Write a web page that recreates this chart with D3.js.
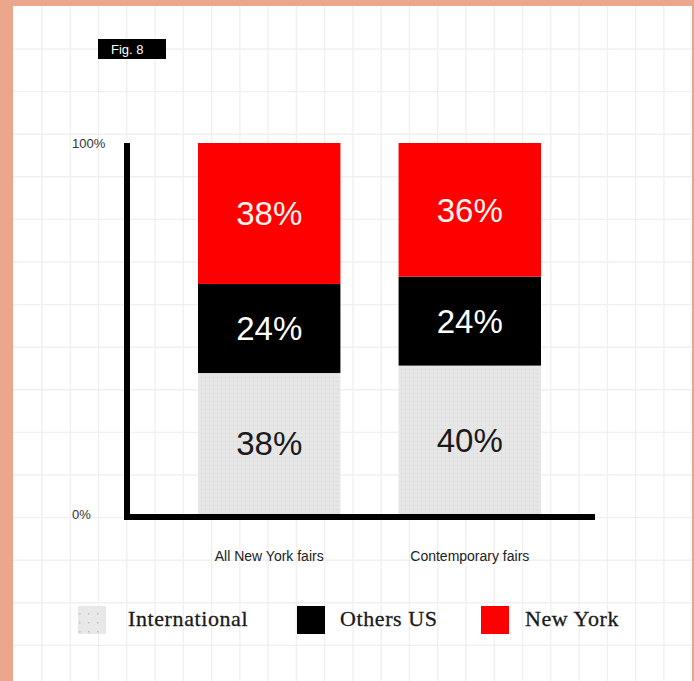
<!DOCTYPE html>
<html>
<head>
<meta charset="utf-8">
<script src="https://cdn.jsdelivr.net/npm/d3@7"></script>
<style>
  html, body { margin: 0; padding: 0; background: #fff; }
  svg { display: block; }
</style>
</head>
<body>
<svg id="chart" width="694" height="681"></svg>
<script>
const categories = ["All New York fairs", "Contemporary fairs"];
const seriesNames = ["International", "Others US", "New York"];
const international = [38, 40];
const othersUS = [24, 24];
const newYork = [38, 36];
const yTickValues = [0, 100];
const yTickLabels = ["0%", "100%"];
const figLabel = "Fig. 8";

const colors = { "International": "url(#dots)", "Others US": "#000000", "New York": "#ff0000" };
const labelColors = { "International": "#1a1a1a", "Others US": "#ffffff", "New York": "#fff4ec" };

const rows = categories.map((c, i) => ({
  category: c,
  "International": international[i],
  "Others US": othersUS[i],
  "New York": newYork[i]
}));

const W = 694, H = 681;
const svg = d3.select("#chart");

const defs = svg.append("defs");
const pat = defs.append("pattern").attr("id", "dots").attr("patternUnits", "userSpaceOnUse")
  .attr("width", 4).attr("height", 4);
pat.append("rect").attr("width", 4).attr("height", 4).attr("fill", "#e6e6e6");
pat.append("rect").attr("x", 1).attr("y", 1).attr("width", 1).attr("height", 1).attr("fill", "#d4d4d4");
const pat2 = defs.append("pattern").attr("id", "dots2").attr("patternUnits", "userSpaceOnUse")
  .attr("width", 9).attr("height", 9).attr("x", 78).attr("y", 606);
pat2.append("rect").attr("width", 9).attr("height", 9).attr("fill", "#e8e8e8");
pat2.append("rect").attr("x", 4).attr("y", 4).attr("width", 1.5).attr("height", 1.5).attr("fill", "#bdbdbd");

// background + frame
svg.append("rect").attr("width", W).attr("height", H).attr("fill", "#eca68c");
svg.append("rect").attr("x", 13).attr("y", 6).attr("width", W - 13 - 2).attr("height", H - 6).attr("fill", "#ffffff");

// grid
const grid = svg.append("g").attr("stroke", "#f0f0f0").attr("stroke-width", 1.4);
const gx = d3.range(42, 692, 28.27);
const gy = d3.range(49, 681, 42.6);
grid.selectAll("line.v").data(gx).join("line").attr("class", "v")
  .attr("x1", d => d).attr("x2", d => d).attr("y1", 6).attr("y2", H);
grid.selectAll("line.h").data(gy).join("line").attr("class", "h")
  .attr("x1", 13).attr("x2", W - 2).attr("y1", d => d).attr("y2", d => d);

// scales
const x = d3.scaleBand().domain(categories).range([198, 541]).paddingInner(0.29).paddingOuter(0);
const y = d3.scaleLinear().domain([0, 100]).range([514, 143]);

// stacked bars
const stack = d3.stack().keys(seriesNames);
const stacked = stack(rows);

const layers = svg.append("g").selectAll("g").data(stacked).join("g")
  .attr("fill", d => colors[d.key]);
layers.selectAll("rect").data(d => d).join("rect")
  .attr("x", d => x(d.data.category))
  .attr("y", d => y(d[1]))
  .attr("width", x.bandwidth())
  .attr("height", d => y(d[0]) - y(d[1]));

const labelG = svg.append("g");
stacked.forEach(layer => {
  labelG.selectAll(null).data(layer).join("text")
    .attr("x", d => x(d.data.category) + x.bandwidth() / 2)
    .attr("y", d => (y(d[0]) + y(d[1])) / 2)
    .attr("dy", "0.36em")
    .attr("text-anchor", "middle")
    .attr("font-family", "'Liberation Sans', Arial, sans-serif")
    .attr("font-size", 33)
    .attr("fill", labelColors[layer.key])
    .text(d => (d[1] - d[0]) + "%");
});

// axes
const yAxis = d3.axisLeft(y).tickValues(yTickValues)
  .tickFormat((d, i) => yTickLabels[i]).tickSize(0).tickSizeOuter(0);
const yg = svg.append("g").attr("transform", "translate(127,0)").call(yAxis);
yg.select(".domain").remove();
yg.selectAll("text")
  .attr("x", 72 - 127).attr("text-anchor", "start")
  .attr("font-family", "'Liberation Sans', Arial, sans-serif")
  .attr("font-size", 13).attr("fill", "#333");

const xAxis = d3.axisBottom(x).tickSize(0).tickSizeOuter(0);
const xg = svg.append("g").attr("transform", "translate(0,520)").call(xAxis);
xg.select(".domain").remove();
xg.selectAll("text")
  .attr("y", 31)
  .attr("font-family", "'Liberation Sans', Arial, sans-serif")
  .attr("font-size", 14).attr("fill", "#222");

svg.append("line").attr("x1", 127).attr("x2", 127).attr("y1", y(100)).attr("y2", 520)
  .attr("stroke", "#000").attr("stroke-width", 6);
svg.append("line").attr("x1", 124).attr("x2", 595).attr("y1", 517).attr("y2", 517)
  .attr("stroke", "#000").attr("stroke-width", 6);

// fig label
svg.append("rect").attr("x", 98).attr("y", 39).attr("width", 68).attr("height", 20).attr("fill", "#000");
svg.append("text").attr("x", 111).attr("y", 54).attr("font-family", "'Liberation Sans', Arial, sans-serif")
  .attr("font-size", 13).attr("fill", "#fff").text(figLabel);

// legend
const legendX = [78, 297, 481];
const legendFill = { "International": "url(#dots2)", "Others US": "#000", "New York": "#ff0000" };
const lg = svg.append("g").selectAll("g").data(seriesNames).join("g")
  .attr("transform", (d, i) => `translate(${legendX[i]},606)`);
lg.append("rect").attr("width", 28).attr("height", 28).attr("fill", d => legendFill[d]);
lg.append("text").attr("x", (d, i) => [50, 43, 44][i]).attr("y", 20)
  .attr("font-family", "'Liberation Serif', 'Times New Roman', serif")
  .attr("font-size", 22).attr("letter-spacing", 0.6)
  .attr("fill", "#1a1a1a").attr("stroke", "#1a1a1a").attr("stroke-width", 0.3)
  .text(d => d);
</script>
</body>
</html>
